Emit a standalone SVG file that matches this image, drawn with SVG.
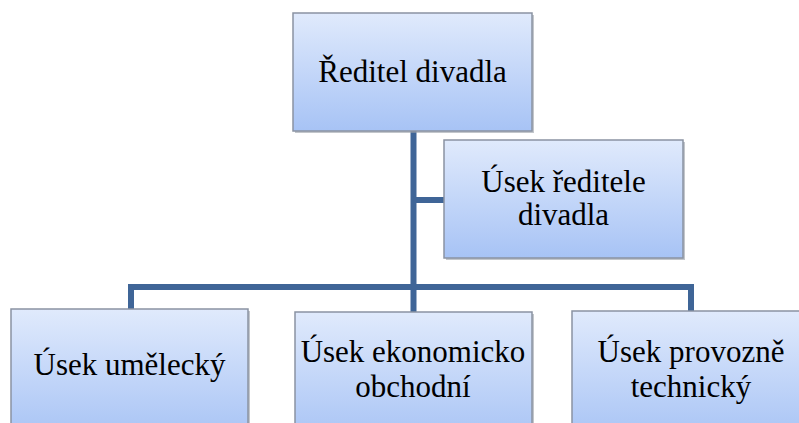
<svg xmlns="http://www.w3.org/2000/svg" width="799" height="423" viewBox="0 0 799 423">
<defs>
<linearGradient id="g" x1="0" y1="0" x2="0" y2="1">
<stop offset="0" stop-color="#e0eafc"/>
<stop offset="1" stop-color="#a7c3f5"/>
</linearGradient>
<style>
.box{fill:url(#g);stroke:#8a93a2;stroke-width:1.5}
.sh{fill:#9aa0a8;opacity:0.6}
.t{font-family:'Liberation Serif','DejaVu Serif','Times New Roman',Times,serif;font-size:31px;fill:#000;text-anchor:middle}
.c{fill:none;stroke:#3f6597;stroke-width:6;stroke-linejoin:miter}
</style>
</defs>
<rect width="799" height="423" fill="#fff"/>
<g id="connectors">
<path class="c" d="M413.5 131 V312"/>
<path class="c" d="M413.5 200 H444"/>
<path class="c" d="M131 309 V287 H691 V311"/>
</g>
<g id="n-reditel">
<rect class="sh" x="295" y="15" width="239" height="118"/>
<rect class="box" x="293" y="13" width="239" height="118"/>
<text class="t" x="412.5" y="82">Ředitel divadla</text>
</g>
<g id="n-usek-reditele">
<rect class="sh" x="446" y="142" width="239" height="118"/>
<rect class="box" x="444" y="140" width="239" height="118"/>
<text class="t" x="563.5" y="192">Úsek ředitele</text>
<text class="t" x="563.5" y="225">divadla</text>
</g>
<g id="n-umelecky">
<rect class="sh" x="13" y="311" width="237" height="130"/>
<rect class="box" x="11" y="309" width="237" height="130"/>
<text class="t" x="129.5" y="375">Úsek umělecký</text>
</g>
<g id="n-ekonomicko">
<rect class="sh" x="297" y="314" width="237" height="130"/>
<rect class="box" x="295" y="312" width="237" height="130"/>
<text class="t" x="413" y="362">Úsek ekonomicko</text>
<text class="t" x="413" y="397">obchodní</text>
</g>
<g id="n-provozne">
<rect class="sh" x="574" y="313" width="237" height="130"/>
<rect class="box" x="572" y="311" width="237" height="130"/>
<text class="t" x="691" y="362">Úsek provozně</text>
<text class="t" x="691" y="397">technický</text>
</g>
</svg>
